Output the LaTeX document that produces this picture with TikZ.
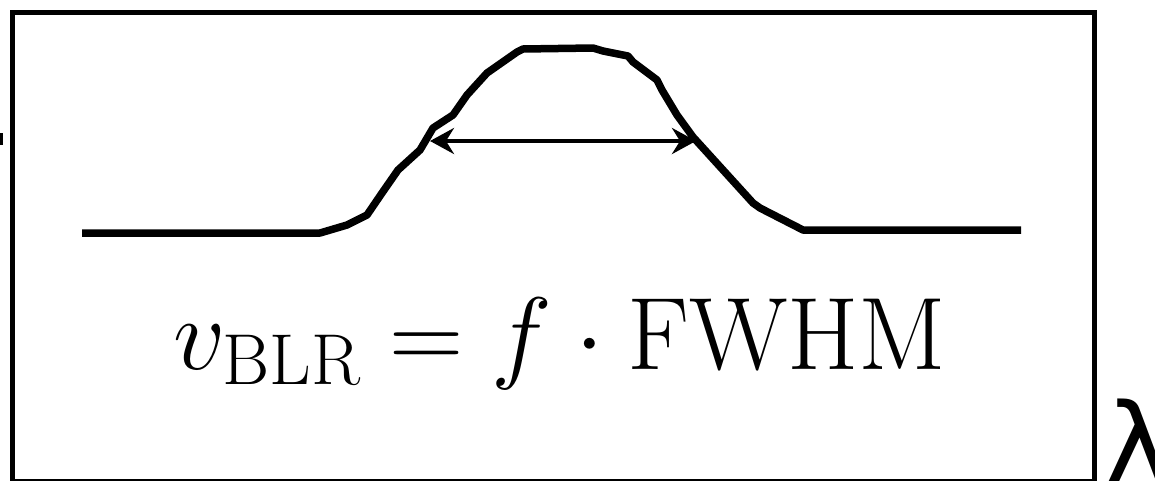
\RequirePackage{fix-cm}
\documentclass[tikz,border=0pt]{standalone}
\usepackage{fontspec}
\newfontfamily\dejavu{DejaVu Sans}
\usetikzlibrary{arrows.meta}
\begin{document}
\begin{tikzpicture}[x=1pt,y=-1pt,
  frame/.style={draw=black,line width=5pt},
  profile/.style={draw=black,line width=7.5pt,line join=round},
  fwhm/.style={draw=black,line width=4pt,{Stealth[length=24pt,width=26pt,inset=8pt]}-{Stealth[length=24pt,width=26pt,inset=8pt]}},
  formula/.style={inner sep=0pt,anchor=base,font=\fontsize{103}{110}\selectfont},
  lam/.style={inner sep=0pt,anchor=base west,font=\dejavu\fontsize{110}{120}\selectfont}]
\useasboundingbox (0,0) rectangle (1155,480);
\draw[frame] (12.5,12.5) rectangle (1094.5,481);
\fill[black] (0,133) rectangle (3,145);
\draw[profile] (82,233) -- (320,233) -- (347,225) -- (367,215) -- (382,193) -- (398,170)
  -- (420,150) -- (433,128) -- (453,115) -- (460,105) -- (467,95) -- (487,73) -- (517,52)
  -- (523,49) -- (593,48) -- (603,51) -- (628,56) -- (633,62) -- (657,80) -- (662,90)
  -- (677,115) -- (693,137) -- (753,203) -- (760,208) -- (803,230) -- (1021,230);
\coordinate (l) at (430,141);
\coordinate (r) at (696,141);
\draw[fwhm] (l) -- (r);
\node[formula] (eq) at (560,369) {$v_{\mathrm{BLR}} = f\cdot\mathrm{FWHM}$};
\node[lam] (lambda) at (1105,482) {λ};
\end{tikzpicture}
\end{document}
